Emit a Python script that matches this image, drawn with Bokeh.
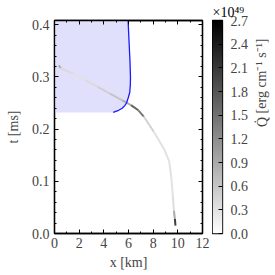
import numpy as np
from bokeh.plotting import figure
from bokeh.layouts import row
from bokeh.models import (LinearColorMapper, LinearAxis, Range1d,
                          FixedTicker, ColumnDataSource, PrintfTickFormatter,
                          CustomJSTickFormatter)
from bokeh.embed import file_html
from bokeh.resources import INLINE

# ---- data ----
# blue boundary curve (x [km], t [ms]), bottom to top
curve_x = [4.76, 5.2, 5.49, 5.7, 5.84, 5.98, 6.1, 6.15, 6.16, 6.12, 6.06, 6.0, 5.97]
curve_t = [0.232, 0.236, 0.240, 0.245, 0.250, 0.260, 0.270, 0.285, 0.300, 0.330, 0.360, 0.390, 0.408]
# heating trace (x [km], t [ms], Qdot [1e49 erg cm^-1 s^-1])
trace_x = [0.35, 0.5, 1.5, 2.5, 3.5, 4.5, 5.5, 6.2, 6.8, 7.24, 8.05, 8.86, 9.3, 9.48, 9.58, 9.68, 9.76, 9.81]
trace_t = [0.322, 0.317, 0.306, 0.294, 0.281, 0.268, 0.255, 0.246, 0.236, 0.224, 0.195, 0.163, 0.138, 0.105, 0.075, 0.044, 0.028, 0.015]
trace_q = [1.3, 0.5, 0.3, 0.35, 0.45, 0.55, 0.7, 1.0, 2.3, 0.6, 0.35, 0.3, 0.35, 0.3, 0.3, 0.4, 1.4, 2.7]
cbar_ticks = [0.0, 0.3, 0.6, 0.9, 1.2, 1.5, 1.8, 2.1, 2.4, 2.7]
x_ticks = [0, 2, 4, 6, 8, 10, 12]
y_ticks = [0.0, 0.1, 0.2, 0.3, 0.4]
q_max = 2.7

FONT = "Liberation Serif"
FS = "14px"

p = figure(width=212, height=272, output_backend="svg", toolbar_location=None,
           x_range=Range1d(0, 12), y_range=Range1d(0, 0.408),
           min_border_left=54, min_border_top=20, min_border_bottom=39, min_border_right=10)
p.xgrid.visible = False
p.ygrid.visible = False
p.outline_line_color = "black"
p.outline_line_width = 1.3

# shaded region
px = [0.0] + curve_x + [0.0]
pt = [curve_t[0]] + curve_t + [curve_t[-1]]
p.patch(px, pt, fill_color="#e0e0fc", line_color=None)

# trace segments
palette = ["#%02x%02x%02x" % (v, v, v) for v in range(255, -1, -1)]
mapper = LinearColorMapper(palette=palette, low=0, high=q_max)
seg = ColumnDataSource(dict(
    x0=trace_x[:-1], y0=trace_t[:-1], x1=trace_x[1:], y1=trace_t[1:],
    q=[(a + b) / 2 for a, b in zip(trace_q[:-1], trace_q[1:])]))
p.segment("x0", "y0", "x1", "y1", source=seg, line_width=2,
          line_color={"field": "q", "transform": mapper})

p.line(curve_x, curve_t, line_color="#1a1aff", line_width=1.3)

empty = CustomJSTickFormatter(code="return ''")

def style(ax, labels=True):
    ax.axis_line_width = 1.3
    ax.major_tick_in = 4
    ax.major_tick_out = 0
    ax.minor_tick_in = 2
    ax.minor_tick_out = 0
    ax.major_label_text_font = FONT
    ax.major_label_text_font_size = FS
    ax.axis_label_text_font = FONT
    ax.axis_label_text_font_size = FS
    ax.axis_label_text_font_style = "normal"
    if not labels:
        ax.formatter = empty
        ax.major_label_standoff = 0

xt = FixedTicker(ticks=x_ticks, minor_ticks=list(range(0, 13)))
yt = FixedTicker(ticks=y_ticks, minor_ticks=[i * 0.02 for i in range(21)])
p.xaxis.ticker = xt
p.yaxis.ticker = yt
p.yaxis.formatter = PrintfTickFormatter(format="%.1f")
p.xaxis.axis_label = "x [km]"
p.yaxis.axis_label = "t [ms]"
style(p.xaxis[0])
style(p.yaxis[0])
p.xaxis.major_label_standoff = 4
p.xaxis.axis_label_standoff = 4
p.yaxis.major_label_standoff = 5
p.yaxis.axis_label_standoff = 8

top = LinearAxis(ticker=xt)
style(top, labels=False)
p.add_layout(top, "above")
right = LinearAxis(ticker=yt)
style(right, labels=False)
p.add_layout(right, "right")

# ---- colour bar as its own narrow figure ----
cbar = figure(frame_width=10, height=272, output_backend="svg", toolbar_location=None,
              x_range=Range1d(0, 1), y_range=Range1d(0, q_max), y_axis_location="right",
              min_border_left=0, min_border_top=20, min_border_bottom=39, min_border_right=0)
cbar.xaxis.visible = False
cbar.xgrid.visible = False
cbar.ygrid.visible = False
cbar.outline_line_color = "black"
cbar.outline_line_width = 1.3
levels = np.linspace(0, q_max, 256).reshape(256, 1)
cbar.image(image=[levels], x=0, y=0, dw=1, dh=q_max, color_mapper=mapper)
cax = cbar.yaxis[0]
cax.ticker = FixedTicker(ticks=cbar_ticks)
cax.formatter = PrintfTickFormatter(format="%.1f")
cax.axis_line_color = None
cax.major_tick_in = 4
cax.major_tick_out = 0
cax.minor_tick_line_color = None
cax.major_label_standoff = 8
cax.major_label_text_font = FONT
cax.major_label_text_font_size = FS
cax.axis_label = "Q̇ [erg cm⁻¹ s⁻¹]"
cax.axis_label_text_font = FONT
cax.axis_label_text_font_size = FS
cax.axis_label_text_font_style = "normal"
cax.axis_label_standoff = 11
cax.axis_label_orientation = 1.5708

cbar.title.text = "×10⁴⁹"
cbar.title.text_font = FONT
cbar.title.text_font_size = "14px"
cbar.title.text_font_style = "normal"
cbar.title.text_color = "black"
cbar.title.align = "left"
cbar.title.standoff = 2

layout = row(p, cbar)
open("out.html", "w").write(file_html(layout, INLINE))
